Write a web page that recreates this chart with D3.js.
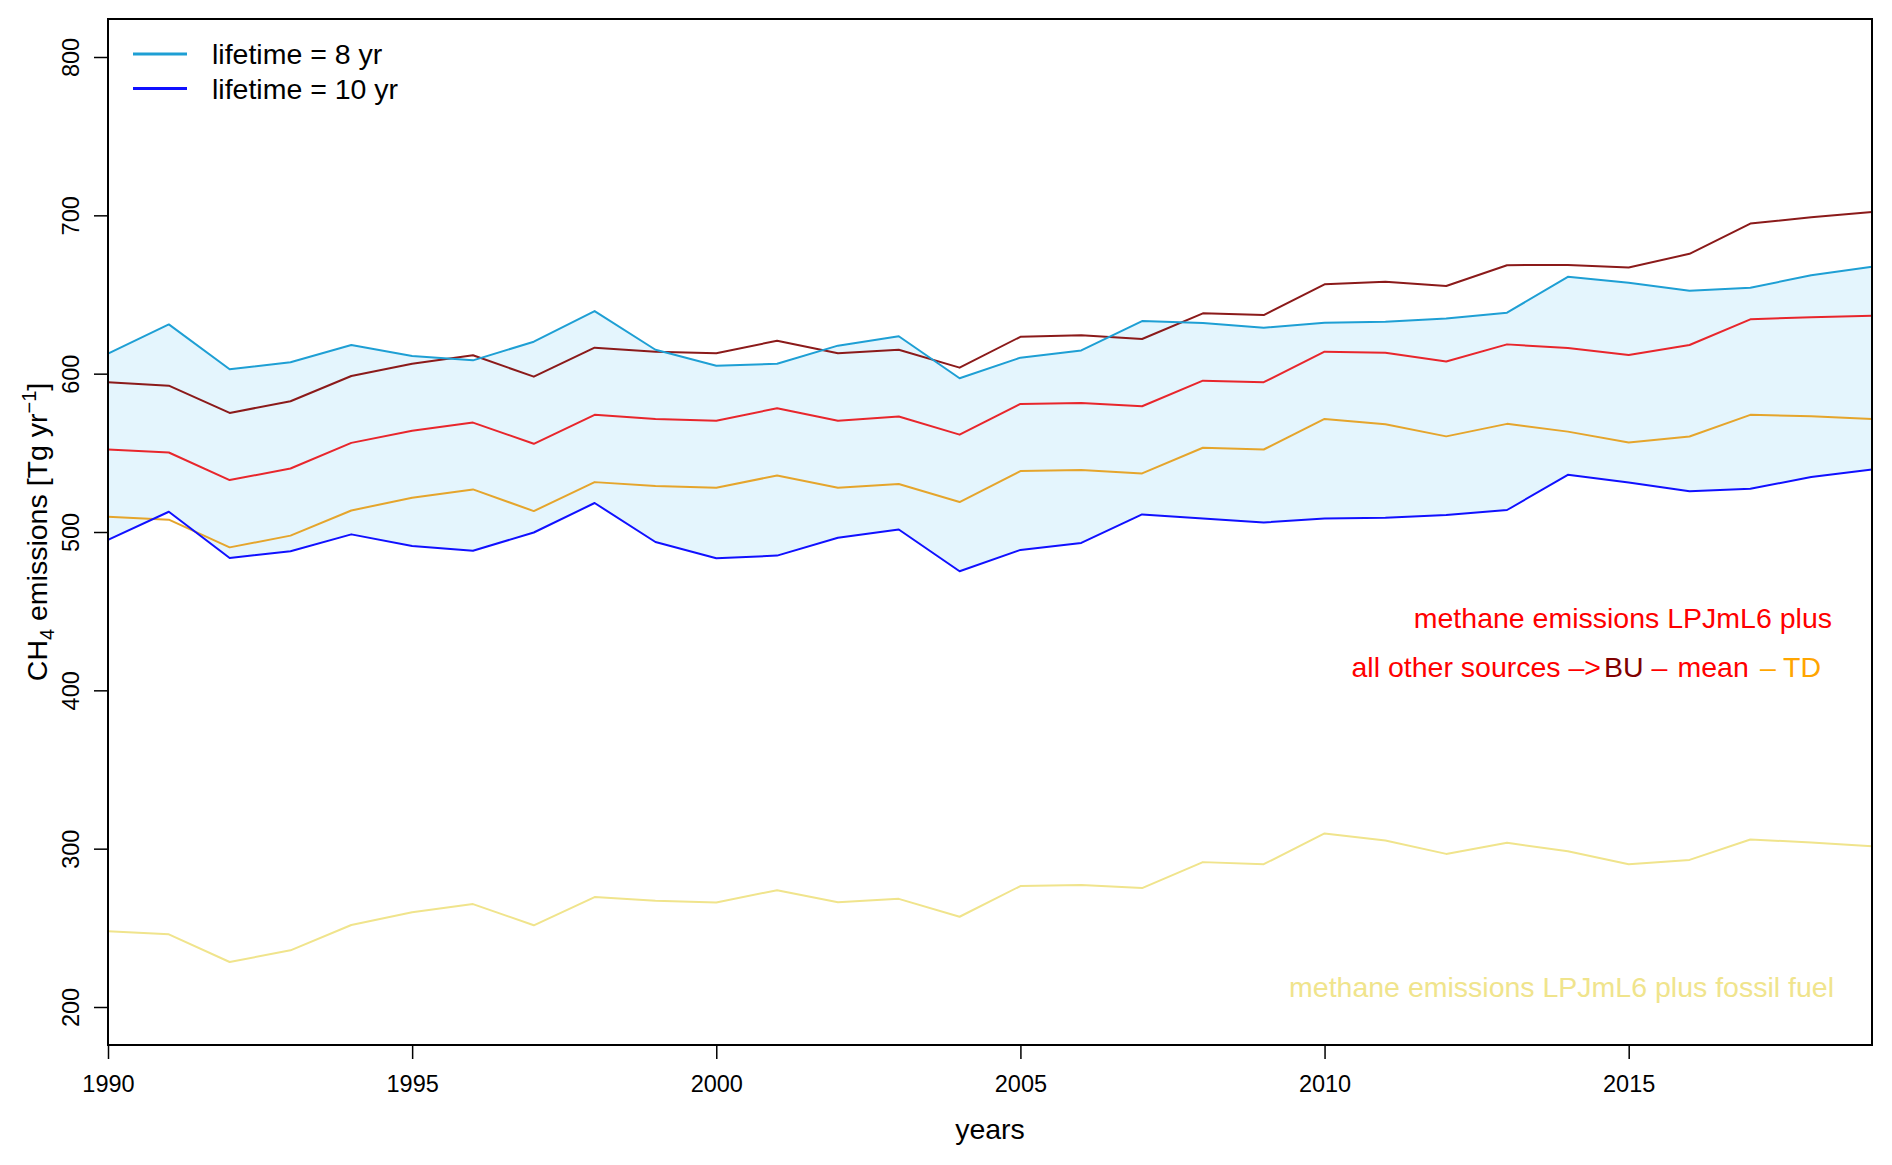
<!DOCTYPE html>
<html>
<head>
<meta charset="utf-8">
<script src="https://cdn.jsdelivr.net/npm/d3@7"></script>
<style>
  body { margin: 0; background: #fff; }
  text { font-family: "Liberation Sans", Arial, Helvetica, sans-serif; }
</style>
</head>
<body>
<div id="chart"></div>
<script>
// Data
var years = [1990, 1991, 1992, 1993, 1994, 1995, 1996, 1997, 1998, 1999,
             2000, 2001, 2002, 2003, 2004, 2005, 2006, 2007, 2008, 2009,
             2010, 2011, 2012, 2013, 2014, 2015, 2016, 2017, 2018, 2019];

// lifetime = 8 yr (upper edge of band)
var life8 = [612.6, 631.1, 602.8, 607.2, 618.1, 611.2, 608.4, 620.2, 639.5, 615.1,
             605.0, 606.3, 617.7, 623.6, 597.1, 610.1, 614.7, 633.2, 632.0, 629.0,
             632.2, 632.8, 634.9, 638.5, 661.2, 657.4, 652.3, 654.2, 662.2, 667.5];

// lifetime = 10 yr (lower edge of band)
var life10 = [495.0, 512.8, 483.6, 487.8, 498.5, 491.2, 488.2, 499.7, 518.3, 493.7,
              483.4, 485.1, 496.4, 501.6, 475.2, 488.7, 493.1, 511.1, 508.6, 506.0,
              508.6, 509.0, 510.7, 513.9, 536.1, 531.3, 525.8, 527.3, 534.7, 539.5];

// LPJmL6 plus all other sources: BU, mean, TD
var bu = [594.6, 592.4, 575.2, 582.6, 598.5, 606.3, 611.6, 598.1, 616.4, 613.9,
          612.9, 620.8, 612.9, 615.1, 603.8, 623.3, 624.2, 621.9, 638.1, 637.0,
          656.4, 658.0, 655.4, 668.5, 668.7, 667.1, 675.7, 694.8, 698.8, 702.1];

var mean = [552.1, 550.2, 532.8, 540.1, 556.3, 563.9, 569.1, 555.7, 574.0, 571.4,
            570.2, 578.2, 570.2, 572.9, 561.5, 580.9, 581.5, 579.4, 595.6, 594.6,
            613.9, 613.2, 607.7, 618.5, 616.2, 611.8, 618.1, 634.3, 635.7, 636.6];

var td = [509.6, 507.8, 490.3, 497.7, 513.6, 521.6, 526.9, 513.2, 531.5, 529.0,
          527.9, 535.7, 527.9, 530.3, 518.9, 538.5, 539.1, 537.0, 553.2, 552.1,
          571.4, 568.1, 560.4, 568.3, 563.4, 556.5, 560.3, 574.0, 573.1, 571.4];

// LPJmL6 plus fossil fuel
var fossil = [247.8, 245.9, 228.4, 235.8, 251.8, 259.8, 265.0, 251.6, 269.4, 267.1,
              266.0, 273.8, 266.1, 268.3, 257.0, 276.4, 277.0, 275.1, 291.5, 290.2,
              309.6, 305.2, 296.7, 303.7, 298.4, 290.2, 292.9, 305.8, 303.9, 301.6];

var xTicks = [1990, 1995, 2000, 2005, 2010, 2015];
var yTicks = [200, 300, 400, 500, 600, 700, 800];

// Sizes
var W = 1892, H = 1165;
var margin = {top: 19, right: 20, bottom: 120, left: 108};
var width = 1872 - margin.left;
var height = 1045 - margin.top;

var svg = d3.select("#chart")
    .append("svg")
    .attr("width", W)
    .attr("height", H)
    .append("g")
    .attr("transform", "translate(" + margin.left + "," + margin.top + ")");

var x = d3.scaleLinear().domain([1990, 2019]).range([0, width]);
var y = d3.scaleLinear().domain([176, 824]).range([height, 0]);

function lineOf(vals) {
    return d3.line()
        .x(function(d, i) { return x(years[i]); })
        .y(function(d) { return y(d); })(vals);
}

// Band between the two lifetimes
var band = d3.area()
    .x(function(d) { return x(d); })
    .y0(function(d, i) { return y(life10[i]); })
    .y1(function(d, i) { return y(life8[i]); });

svg.append("path")
    .attr("d", band(years))
    .attr("fill", "#e4f5fd")
    .attr("stroke", "none");

// Lines
var series = [
    {vals: fossil, col: "#f0e48c"},
    {vals: td, col: "#e5a52c"},
    {vals: mean, col: "#e8262c"},
    {vals: bu, col: "#8b1a1a"},
    {vals: life8, col: "#1e9fd4"},
    {vals: life10, col: "#1010ff"}
];
series.forEach(function(s) {
    svg.append("path")
        .attr("d", lineOf(s.vals))
        .attr("fill", "none")
        .attr("stroke", s.col)
        .attr("stroke-width", 2)
        .attr("stroke-linejoin", "round");
});

// X axis
var xAxis = svg.append("g")
    .attr("transform", "translate(0," + height + ")")
    .call(d3.axisBottom(x).tickValues(xTicks).tickFormat(d3.format("d")).tickSize(14));
xAxis.select(".domain").remove();
xAxis.selectAll("line").attr("stroke", "#000").attr("stroke-width", 1.5);
xAxis.selectAll("text")
    .attr("y", 47).attr("dy", 0)
    .style("font-size", "23.5px")
    .attr("fill", "#000");

// Y axis
var yAxis = svg.append("g")
    .call(d3.axisLeft(y).tickValues(yTicks).tickSize(14));
yAxis.select(".domain").remove();
yAxis.selectAll("line").attr("stroke", "#000").attr("stroke-width", 1.5);
yAxis.selectAll("text")
    .attr("dy", 0)
    .attr("transform", "rotate(-90)")
    .attr("x", 0).attr("y", -29.5)
    .attr("text-anchor", "middle")
    .style("font-size", "23.5px")
    .attr("fill", "#000");

// Plot box
svg.append("rect")
    .attr("x", 0).attr("y", 0)
    .attr("width", width).attr("height", height)
    .attr("fill", "none")
    .attr("stroke", "#000")
    .attr("stroke-width", 2);

// Axis titles
svg.append("text")
    .attr("x", width / 2)
    .attr("y", height + 94)
    .attr("text-anchor", "middle")
    .style("font-size", "28.5px")
    .text("years");

var yTitle = svg.append("text")
    .attr("transform", "rotate(-90)")
    .attr("x", -height / 2)
    .attr("y", -61.5)
    .attr("text-anchor", "middle")
    .style("font-size", "28.5px");
yTitle.append("tspan").text("CH");
yTitle.append("tspan").attr("dy", 7).style("font-size", "20px").text("4");
yTitle.append("tspan").attr("dy", -7).text(" emissions [Tg yr");
yTitle.append("tspan").attr("dy", -11).style("font-size", "20px").text("\u22121");
yTitle.append("tspan").attr("dy", 11).text("]");

// Legend
var legend = [
    {label: "lifetime = 8 yr", col: "#1e9fd4"},
    {label: "lifetime = 10 yr", col: "#1010ff"}
];
legend.forEach(function(d, i) {
    var ly = 35 + i * 34.5;
    svg.append("line")
        .attr("x1", 25).attr("x2", 79)
        .attr("y1", ly).attr("y2", ly)
        .attr("stroke", d.col)
        .attr("stroke-width", 3);
    svg.append("text")
        .attr("x", 104)
        .attr("y", ly + 10)
        .style("font-size", "28.5px")
        .text(d.label);
});

// Annotations
svg.append("text")
    .attr("x", x(2019) - 40)
    .attr("y", 609)
    .attr("text-anchor", "end")
    .style("font-size", "28.5px")
    .attr("fill", "#ff0000")
    .text("methane emissions LPJmL6 plus");

var parts = [
    {t: "all other sources \u2013>", col: "#ff0000", x0: 1493, anchor: "end"},
    {t: "BU", col: "#800000", x0: 1496, anchor: "start"},
    {t: "\u2013", col: "#ff0000", x0: 1543.5, anchor: "start"},
    {t: "mean", col: "#ff0000", x0: 1569.5, anchor: "start"},
    {t: "\u2013", col: "#ffa500", x0: 1652, anchor: "start"},
    {t: "TD", col: "#ffa500", x0: 1675, anchor: "start"}
];
parts.forEach(function(p) {
    svg.append("text")
        .attr("x", p.x0)
        .attr("y", 658)
        .attr("text-anchor", p.anchor)
        .style("font-size", "28.5px")
        .attr("fill", p.col)
        .text(p.t);
});

svg.append("text")
    .attr("x", x(2019) - 38)
    .attr("y", 978)
    .attr("text-anchor", "end")
    .style("font-size", "28.5px")
    .attr("fill", "#f0e48c")
    .text("methane emissions LPJmL6 plus fossil fuel");
</script>
</body>
</html>
